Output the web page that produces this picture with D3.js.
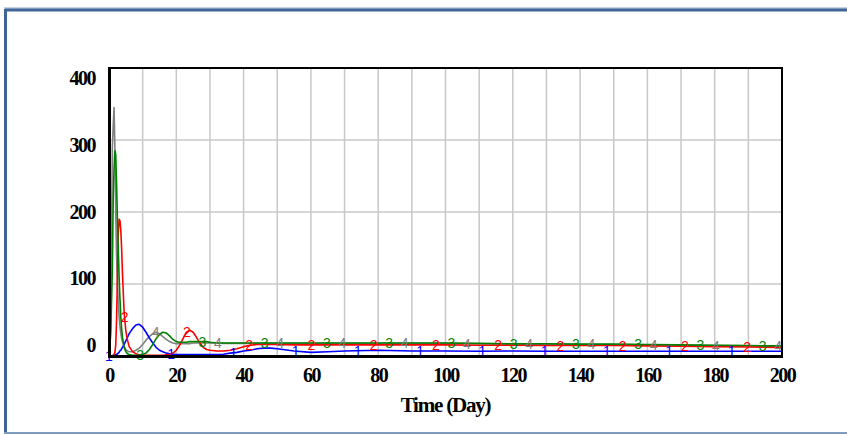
<!DOCTYPE html>
<html><head><meta charset="utf-8">
<script src="https://cdn.jsdelivr.net/npm/d3@7"></script>
<style>
html,body{margin:0;padding:0;background:#fff;}
svg{display:block;}
</style></head>
<body>
<script>
// ---- data ----
const time = [0,0.5,1,1.25,1.5,1.75,2,2.25,2.5,2.75,3,3.25,3.5,3.75,4,4.5,5,5.5,6,7,8,9,10,11,12,13,14,15,16,17,18,19,20,21,22,23,24,25,26,27,28,29,30,32,34,36,38,40,42,44,46,48,50,55,60,65,70,80,90,100,110,120,130,140,150,160,170,180,190,200];
const series1 = [0,0,0.5,0.5,1,1,2,2,3,4,5,7,8,10,12,16,21,26,31,38,43,44,40,33,25,18,12,8,6,4,3,2.5,2,2,2,2,2,2,2,2,2,2,2,2,2.5,4,5,7,8,10,11,11,10,7,5,6,7,8,7,7,6.5,7,6.5,6.5,6.5,6.5,6.5,6.5,6.5,6.5];
const series2 = [0,0,0,1,2,5,15,50,110,170,190,188,175,150,115,60,35,22,13,6,3,1.5,1,1,1,1,1,1,1,1.5,2,4,8,15,24,33,36,33,26,18,12,9,8,7,7,8,10,13,15,16,16,16,16,15.5,15.5,15.5,15.5,15.5,15.5,15.5,15,15,14.5,14.5,14.5,14,13.5,13,12.5,12];
const series3 = [0,30,120,220,260,285,280,240,190,150,110,80,55,38,26,12,6,3,2,1,1,1,2,4,9,16,24,30,33,32,28,23,20,19,19,19,20,20,20,20,20,20,19,18,18,18,18,18,18,18,18,18,18,18,18,18,18,18,18,18,17.5,17,17,16.5,16.5,16,15.5,15,14.5,14];
const series4 = [0,40,290,320,345,290,200,140,100,75,55,42,32,25,20,13,9,7,6,6,8,11,16,22,27,31,33,31,27,23,20,18,17,17,17,17,17,18,18,18,18,18,18,18,17.5,17.5,17.5,17.5,17.5,17.5,17.5,17.5,17.5,17.5,17.5,17.5,17.5,17.5,17.5,17.5,17,16.5,16.5,16,16,15.5,15,14.5,14,13.5];
const seriesNames = ["1","2","3","4"];
const seriesColors = ["#0000ff","#ff0000","#008000","#808080"];
const xTicks = [0,20,40,60,80,100,120,140,160,180,200];
const yTicks = [0,100,200,300,400];
const xGrid = d3.range(0,201,10);
const xTitle = "Time (Day)";
const markerPeriod = 18.5;

// ---- chart ----
const W = 847, H = 435;
const svg = d3.select("body").append("svg").attr("width",W).attr("height",H);

// outer frame
svg.append("line").attr("x1",4).attr("x2",W).attr("y1",8).attr("y2",8).attr("stroke","#8aa4c4").attr("stroke-width",1);
svg.append("line").attr("x1",5).attr("x2",W).attr("y1",10).attr("y2",10).attr("stroke","#3f6595").attr("stroke-width",3);
svg.append("line").attr("x1",5.5).attr("x2",5.5).attr("y1",9).attr("y2",434).attr("stroke","#3f6595").attr("stroke-width",3);
svg.append("line").attr("x1",4).attr("x2",W).attr("y1",433).attr("y2",433).attr("stroke","#7f9cc0").attr("stroke-width",2);

const x = d3.scaleLinear().domain([0,200]).range([109,782]);
const y = d3.scaleLinear().domain([0,400]).range([356,68]);
const yLab = d3.scaleLinear().domain([0,400]).range([345,78]);

// grid
const g = svg.append("g");
g.selectAll("line.vg").data(xGrid.slice(1,-1)).join("line")
  .attr("x1",d=>x(d)).attr("x2",d=>x(d)).attr("y1",y(400)).attr("y2",y(0))
  .attr("stroke","#c8c8c8").attr("stroke-width",1.5);
g.selectAll("line.hg").data(yTicks.slice(1,-1)).join("line")
  .attr("x1",x(0)).attr("x2",x(200)).attr("y1",d=>y(d)).attr("y2",d=>y(d))
  .attr("stroke","#c8c8c8").attr("stroke-width",1.5);

// lines
const all = [series1,series2,series3,series4];
const order = [3,0,1,2];
const line = d3.line().x((d,i)=>x(time[i])).y(d=>y(d)).curve(d3.curveLinear);
const interp = (arr,t)=>{
  const i = d3.bisectRight(time,t);
  if(i<=0) return arr[0];
  if(i>=time.length) return arr[arr.length-1];
  const t0=time[i-1], t1=time[i];
  return arr[i-1] + (arr[i]-arr[i-1])*(t-t0)/(t1-t0);
};
const lg = svg.append("g");
order.forEach(k=>{
  lg.append("path").datum(all[k]).attr("d",line).attr("fill","none")
    .attr("stroke",seriesColors[k]).attr("stroke-width",1.6).attr("stroke-linejoin","round");
});
// markers
order.forEach(k=>{
  const ts = [];
  for(let t=k*markerPeriod/4; t<=200.001; t+=markerPeriod) ts.push(t);
  lg.selectAll(null).data(ts).join("text")
    .attr("x",t=>x(t)).attr("y",t=>y(interp(all[k],t)))
    .attr("text-anchor","middle").attr("dominant-baseline","central")
    .attr("font-family","Liberation Sans, Arial, sans-serif").attr("font-size",14)
    .attr("fill",seriesColors[k]).text(seriesNames[k]);
});

// plot frame
svg.append("rect").attr("x",x(0)).attr("y",y(400)).attr("width",x(200)-x(0)).attr("height",y(0)-y(400))
  .attr("fill","none").attr("stroke","#000").attr("stroke-width",2);
svg.append("line").attr("x1",x(0)-1).attr("x2",x(200)+1).attr("y1",y(0)+0.5).attr("y2",y(0)+0.5).attr("stroke","#000").attr("stroke-width",3);
svg.append("line").attr("x1",x(0)+0.5).attr("x2",x(0)+0.5).attr("y1",y(400)).attr("y2",y(0)).attr("stroke","#000").attr("stroke-width",3);

// axes labels
const font = "Liberation Serif, Times New Roman, serif";
const xAxis = d3.axisBottom(x).tickValues(xTicks).tickSize(0).tickPadding(0).tickFormat(d3.format("d"));
const xa = svg.append("g").attr("transform",`translate(0,${y(0)+12})`).call(xAxis);
xa.select(".domain").remove();
xa.selectAll("text").attr("font-family",font).attr("font-weight","bold").attr("font-size",20).attr("fill","#000").attr("letter-spacing","-1.5px");

svg.append("g").selectAll("text").data(yTicks).join("text")
  .attr("x",95).attr("y",d=>yLab(d)).attr("dominant-baseline","central").attr("text-anchor","end")
  .attr("font-family",font).attr("font-weight","bold").attr("font-size",20).attr("letter-spacing","-1.5px")
  .text(d=>d);

svg.append("text").attr("x",x(100)).attr("y",412).attr("text-anchor","middle")
  .attr("font-family",font).attr("font-weight","bold").attr("font-size",21).attr("letter-spacing","-1.2px")
  .text(xTitle);
</script>
</body></html>
